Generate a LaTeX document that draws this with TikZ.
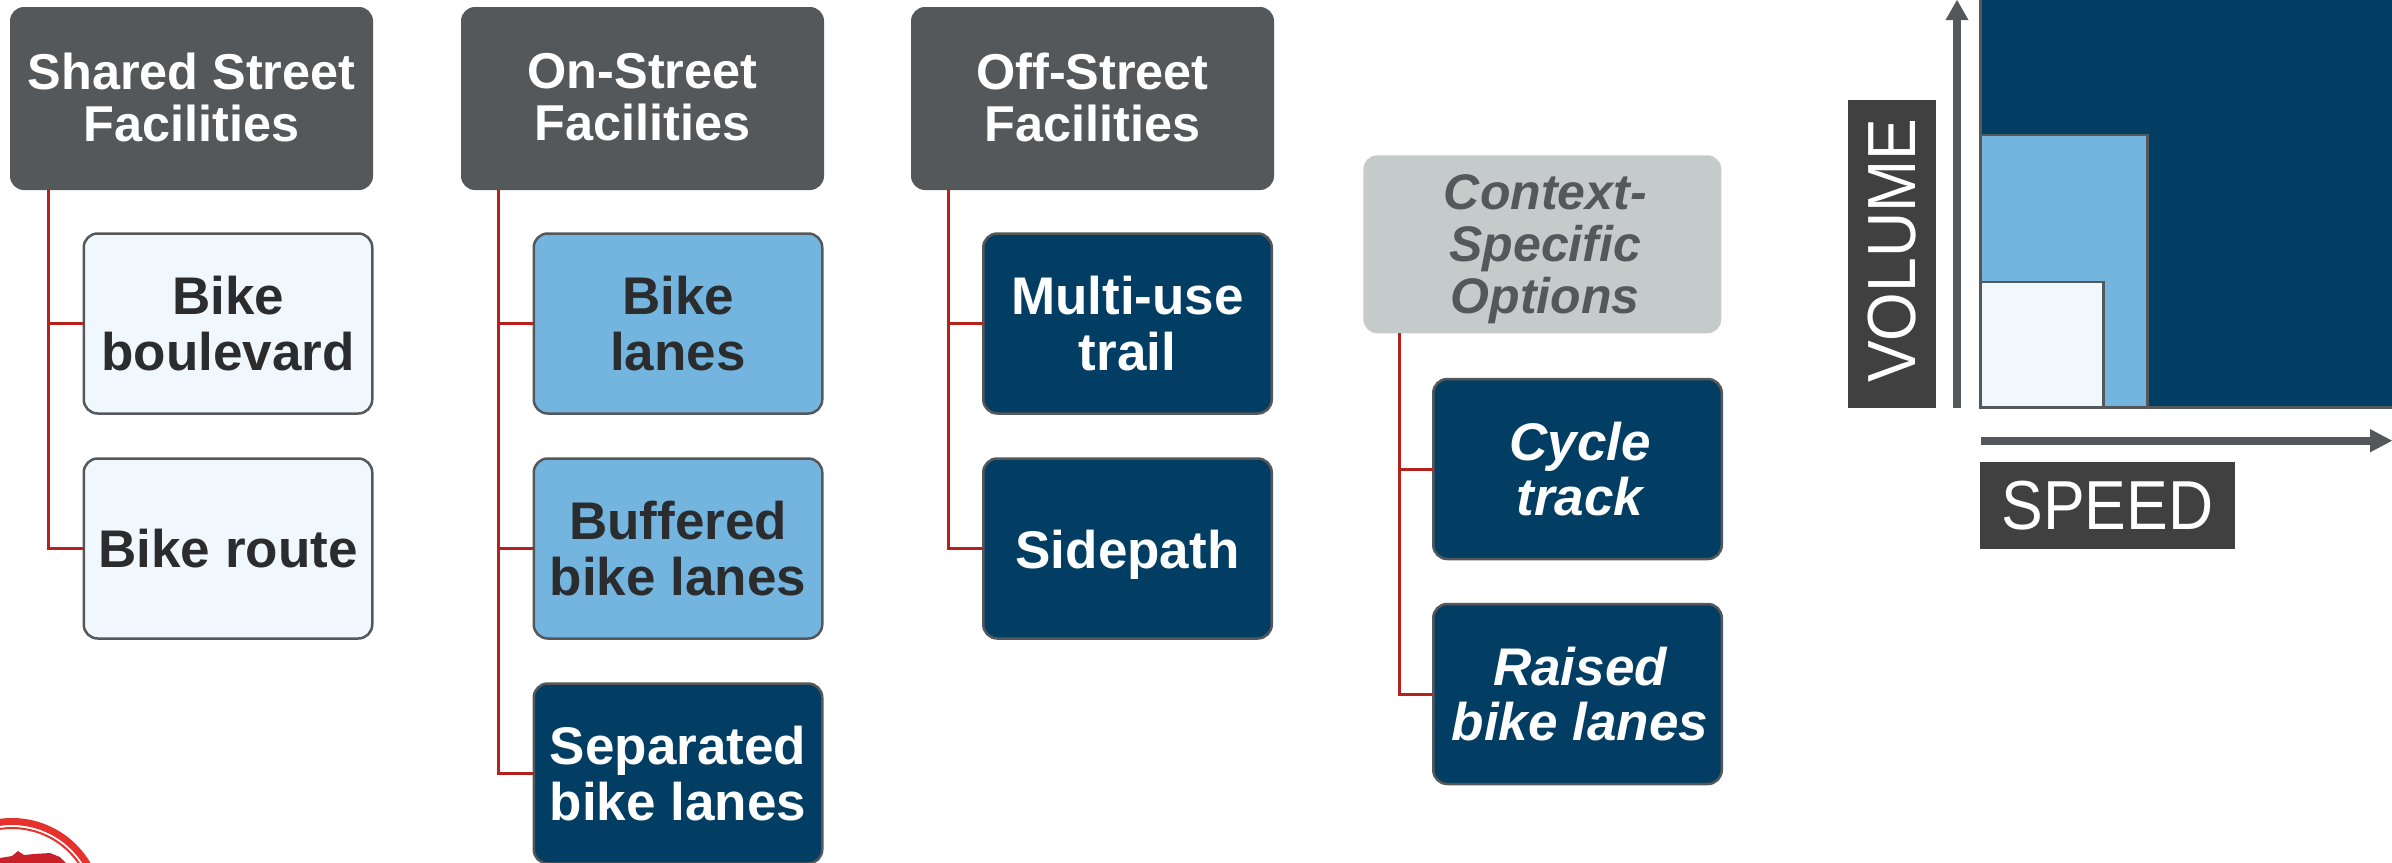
\documentclass[tikz,border=0pt]{standalone}
\usepackage{fontspec}
\setmainfont{Liberation Sans}
\definecolor{hdrgrey}{HTML}{55585B}
\definecolor{navy}{HTML}{023E63}
\definecolor{sky}{HTML}{74B5E0}
\definecolor{pale}{HTML}{F0F8FE}
\definecolor{ctxgrey}{HTML}{C5CBCB}
\definecolor{ctxtext}{HTML}{55585B}
\definecolor{inktext}{HTML}{2A2C2E}
\definecolor{linkred}{HTML}{B5211C}
\definecolor{labelgrey}{HTML}{404040}
\definecolor{logored}{HTML}{E5322D}
\definecolor{logodark}{HTML}{C9202A}
\newcommand{\upbit}{\rule[-3pt]{0pt}{3pt}}
\tikzset{
  x=1pt,y=-1pt,
  box/.style={shape=rectangle,rounded corners=14pt,inner sep=0pt,outer sep=0pt,align=center,font=\fontsize{53}{55.5}\selectfont\bfseries},
  hdr/.style={box,fill=hdrgrey,text=white,minimum width=363pt,minimum height=183pt,font=\fontsize{50.4}{52}\selectfont\bfseries},
  ctx/.style={box,fill=ctxgrey,text=ctxtext,minimum width=358pt,minimum height=178pt,font=\fontsize{50}{52}\selectfont\bfseries\itshape},
  kid/.style={box,draw=hdrgrey,line width=2.5pt,minimum width=288.5pt,minimum height=180pt},
  palekid/.style={kid,fill=pale,text=inktext},
  skykid/.style={kid,fill=sky,text=inktext},
  navykid/.style={kid,fill=navy,text=white},
  italickid/.style={navykid,font=\fontsize{53}{55.5}\selectfont\bfseries\itshape},
  link/.style={draw=linkred,line width=3pt},
  axis/.style={draw=hdrgrey,line width=8pt},
  axishead/.style={fill=hdrgrey},
  tag/.style={fill=labelgrey,text=white,inner sep=0pt,outer sep=0pt,font=\fontsize{62.5}{64}\selectfont},
  zone/.style={draw=hdrgrey,line width=2.7pt},
}
\begin{document}
\begin{tikzpicture}
\useasboundingbox (0,0) rectangle (2392,862);
% headers
\node[hdr] (h1) at (191.5,98.5) {Shared Street\\Facilities\upbit};
\node[hdr] (h2) at (642.5,98.5) {On-Street\\Facilities\upbit};
\node[hdr] (h3) at (1092.5,98.5) {Off-Street\\Facilities\upbit};
\node[ctx] (h4) at (1542.3,244.3) {\hspace*{6pt}\rule{0pt}{44pt}Context-\\\hspace*{6pt}Specific\\\hspace*{6pt}Options};
% children
\node[palekid] (a1) at (228,323.5) {Bike\\boulevard};
\node[palekid] (a2) at (228,548.5) {Bike route};
\node[skykid] (b1) at (678,323.5) {Bike\\lanes};
\node[skykid] (b2) at (678,548.5) {Buffered\\bike lanes};
\node[navykid] (b3) at (678,773.5) {Separated\\bike lanes};
\node[navykid] (c1) at (1127.5,323.5) {Multi-use\\trail};
\node[navykid] (c2) at (1127.5,548.5) {\raisebox{0pt}[39pt][0pt]{Sidepath}};
\node[italickid] (d1) at (1577.5,469) {\hspace*{5pt}Cycle\\\hspace*{5pt}track};
\node[italickid] (d2) at (1577.5,694) {\hspace*{5pt}Raised\\\hspace*{5pt}bike lanes};
% connectors
\draw[link] ([xshift=38pt]h1.south west) |- (a1.west);
\draw[link] ([xshift=38pt]h1.south west) |- (a2.west);
\draw[link] ([xshift=37pt]h2.south west) |- (b1.west);
\draw[link] ([xshift=37pt]h2.south west) |- (b2.west);
\draw[link] ([xshift=37pt]h2.south west) |- (b3.west);
\draw[link] ([xshift=37pt]h3.south west) |- (c1.west);
\draw[link] ([xshift=37pt]h3.south west) |- (c2.west);
\draw[link] ([xshift=36pt]h4.south west) |- (d1.west);
\draw[link] ([xshift=36pt]h4.south west) |- (d2.west);
% chart
\filldraw[zone,fill=navy] (1980.3,-10) rectangle (2402,407.3);
\filldraw[zone,fill=sky] (1980.3,135) rectangle (2147.5,407.3);
\filldraw[zone,fill=pale] (1980.3,282) rectangle (2103.7,407.3);
\coordinate (vb) at (1957,407.5);
\coordinate (vt) at (1957,20);
\coordinate (sl) at (1980.5,440.7);
\coordinate (sr) at (2371,440.7);
\draw[axis] (vb) -- (vt);
\fill[axishead] (1945.5,20) -- (1968.5,20) -- (1957,0) -- cycle;
\draw[axis] (sl) -- (sr);
\fill[axishead] (2370,429) -- (2370,452.4) -- (2392,440.7) -- cycle;
\node[tag,minimum width=255pt,minimum height=86.7pt] (speed) at (2107.5,505.3) {\raisebox{-3.5pt}{\scalebox{1}[1.11]{SPEED}}};
\node[tag,minimum width=307.7pt,minimum height=88pt,rotate=90] (vol) at (1892,253.9) {\hspace*{6pt}\raisebox{-0.7pt}{\scalebox{1}[1.09]{VOLUME}}};
% logo fragment
\draw[logored,line width=7pt] (-4.7,823.1) arc[start angle=-101,end angle=-30,radius=87.5];
\draw[logored,line width=2pt] (-4.8,829.8) arc[start angle=-102,end angle=-30,radius=81];
\fill[logodark] (0,866) -- (0,858) -- (12,856) -- (18,851) -- (24,855) -- (34,854) -- (50,853) -- (60,857) -- (69,866) -- cycle;
\end{tikzpicture}
\end{document}
